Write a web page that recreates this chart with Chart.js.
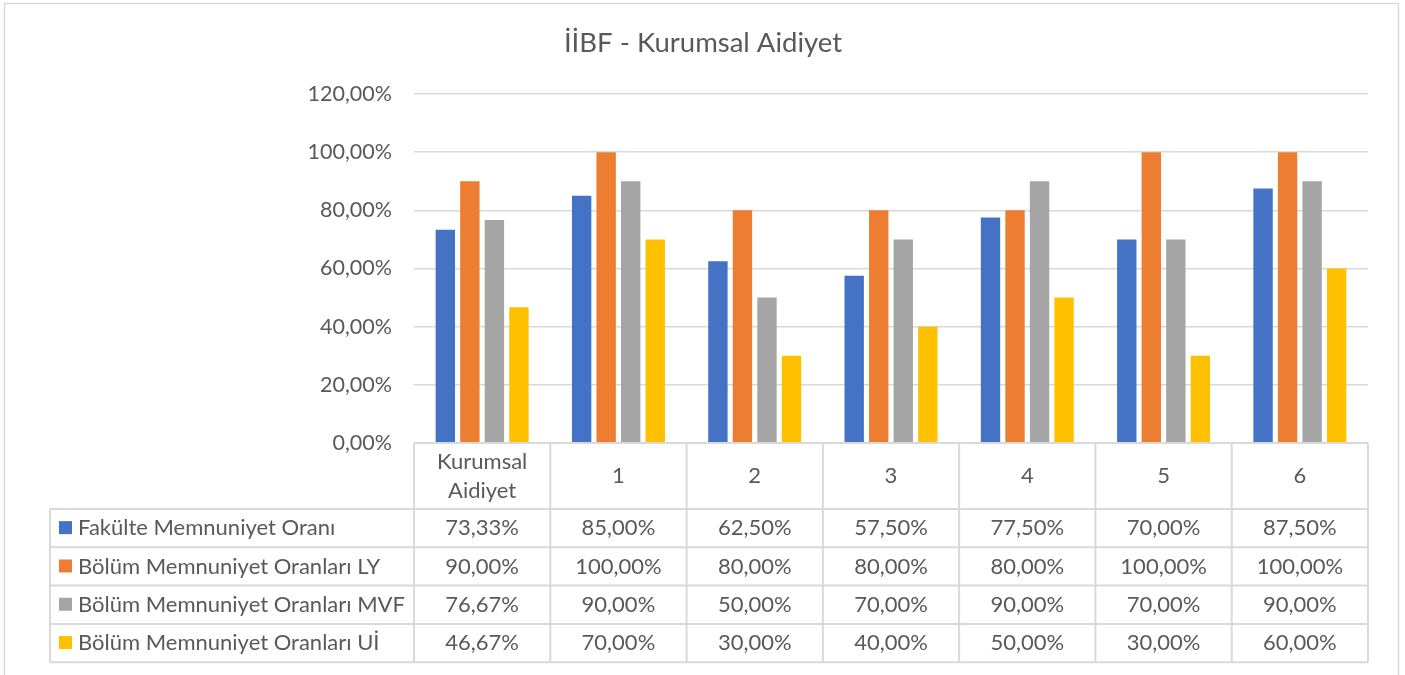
<!DOCTYPE html>
<html lang="tr">
<head>
<meta charset="UTF-8">
<title>İİBF - Kurumsal Aidiyet</title>
<script src="https://cdn.jsdelivr.net/npm/chart.js"></script>
<style>
    body { margin: 0; background: #ffffff; }
    #wrap { width: 1405px; height: 675px; position: relative; }
</style>
</head>
<body>
<div id="wrap"><canvas id="chart" width="1405" height="675"></canvas></div>
<script>
    const categories = [['Kurumsal', 'Aidiyet'], '1', '2', '3', '4', '5', '6'];
    const seriesNames = [
        'Fakülte Memnuniyet Oranı',
        'Bölüm Memnuniyet Oranları LY',
        'Bölüm Memnuniyet Oranları MVF',
        'Bölüm Memnuniyet Oranları Uİ'
    ];
    const fakulte = [73.33, 85.00, 62.50, 57.50, 77.50, 70.00, 87.50];
    const bolumLY = [90.00, 100.00, 80.00, 80.00, 80.00, 100.00, 100.00];
    const bolumMVF = [76.67, 90.00, 50.00, 70.00, 90.00, 70.00, 90.00];
    const bolumUI = [46.67, 70.00, 30.00, 40.00, 50.00, 30.00, 60.00];
    const yTicks = [0, 20, 40, 60, 80, 100, 120];

    const colors = ['#4472C4', '#ED7D31', '#A5A5A5', '#FFC000'];
    const allSeries = [fakulte, bolumLY, bolumMVF, bolumUI];
    const FONT = 'Lato, sans-serif';
    const TEXT = '#595959';
    const LINE = '#d9d9d9';

    function pct(v) {
        return v.toFixed(2).replace('.', ',') + '%';
    }

    // title, outer frame and the data table under the plot
    const tablePlugin = {
        id: 'tablePlugin',
        afterDraw(chart) {
            const ctx = chart.ctx;
            const area = chart.chartArea;
            const xs = chart.scales.x;
            ctx.save();

            // outer frame
            ctx.strokeStyle = LINE;
            ctx.lineWidth = 1.5;
            ctx.strokeRect(4.5, 3.5, 1394, 700);

            // title
            ctx.fillStyle = TEXT;
            ctx.font = '27.5px ' + FONT;
            ctx.textAlign = 'center';
            ctx.textBaseline = 'middle';
            ctx.fillText('İİBF - Kurumsal Aidiyet', 703, 43);

            const half = (xs.getPixelForValue(1) - xs.getPixelForValue(0)) / 2;
            const top = area.bottom;
            const headH = 66;
            const rowH = 38.3;
            const leftX = 50;
            const bottom = top + headH + rowH * allSeries.length;

            ctx.strokeStyle = LINE;
            ctx.lineWidth = 2;
            ctx.beginPath();
            // header top line
            ctx.moveTo(area.left, top);
            ctx.lineTo(area.right, top);
            // row lines
            for (let r = 0; r <= allSeries.length; r++) {
                const y = top + headH + rowH * r;
                ctx.moveTo(leftX, y);
                ctx.lineTo(area.right, y);
            }
            // vertical lines
            ctx.moveTo(leftX, top + headH);
            ctx.lineTo(leftX, bottom);
            for (let i = 0; i <= categories.length; i++) {
                const x = i < categories.length ? xs.getPixelForValue(i) - half : xs.getPixelForValue(i - 1) + half;
                ctx.moveTo(x, top);
                ctx.lineTo(x, bottom);
            }
            ctx.stroke();

            ctx.font = '22px ' + FONT;
            ctx.fillStyle = TEXT;
            ctx.textAlign = 'center';
            // header labels
            categories.forEach((c, i) => {
                const x = xs.getPixelForValue(i);
                if (Array.isArray(c)) {
                    ctx.fillText(c[0], x, top + 19);
                    ctx.fillText(c[1], x, top + 48);
                } else {
                    ctx.fillText(c, x, top + headH / 2);
                }
            });
            // rows
            allSeries.forEach((vals, r) => {
                const cy = top + headH + rowH * r + rowH / 2;
                ctx.fillStyle = colors[r];
                ctx.fillRect(59, cy - 7, 13, 13);
                ctx.fillStyle = TEXT;
                ctx.textAlign = 'left';
                ctx.fillText(seriesNames[r], 78, cy);
                ctx.textAlign = 'center';
                vals.forEach((v, i) => {
                    ctx.fillText(pct(v), xs.getPixelForValue(i), cy);
                });
            });
            ctx.restore();
        }
    };

    new Chart(document.getElementById('chart').getContext('2d'), {
        type: 'bar',
        data: {
            labels: categories.map(c => Array.isArray(c) ? c.join(' ') : c),
            datasets: seriesNames.map((name, i) => ({
                label: name,
                data: allSeries[i],
                backgroundColor: colors[i],
                borderWidth: 0,
                barPercentage: 0.79,
                categoryPercentage: 0.72
            }))
        },
        options: {
            responsive: false,
            animation: false,
            layout: { padding: { left: 0, top: 94, right: 37, bottom: 232 } },
            plugins: {
                legend: { display: false },
                title: { display: false },
                tooltip: { enabled: false }
            },
            scales: {
                x: { display: false },
                y: {
                    min: 0,
                    max: 120,
                    afterFit(scale) { scale.width = 414; },
                    afterBuildTicks(scale) { scale.ticks = yTicks.map(v => ({ value: v })); },
                    border: { display: false },
                    grid: { color: LINE, lineWidth: 1.5, drawTicks: false },
                    ticks: {
                        padding: 22,
                        color: TEXT,
                        font: { family: 'Lato', size: 21.5 },
                        callback: v => pct(v)
                    }
                }
            }
        },
        plugins: [tablePlugin]
    });
</script>
</body>
</html>
